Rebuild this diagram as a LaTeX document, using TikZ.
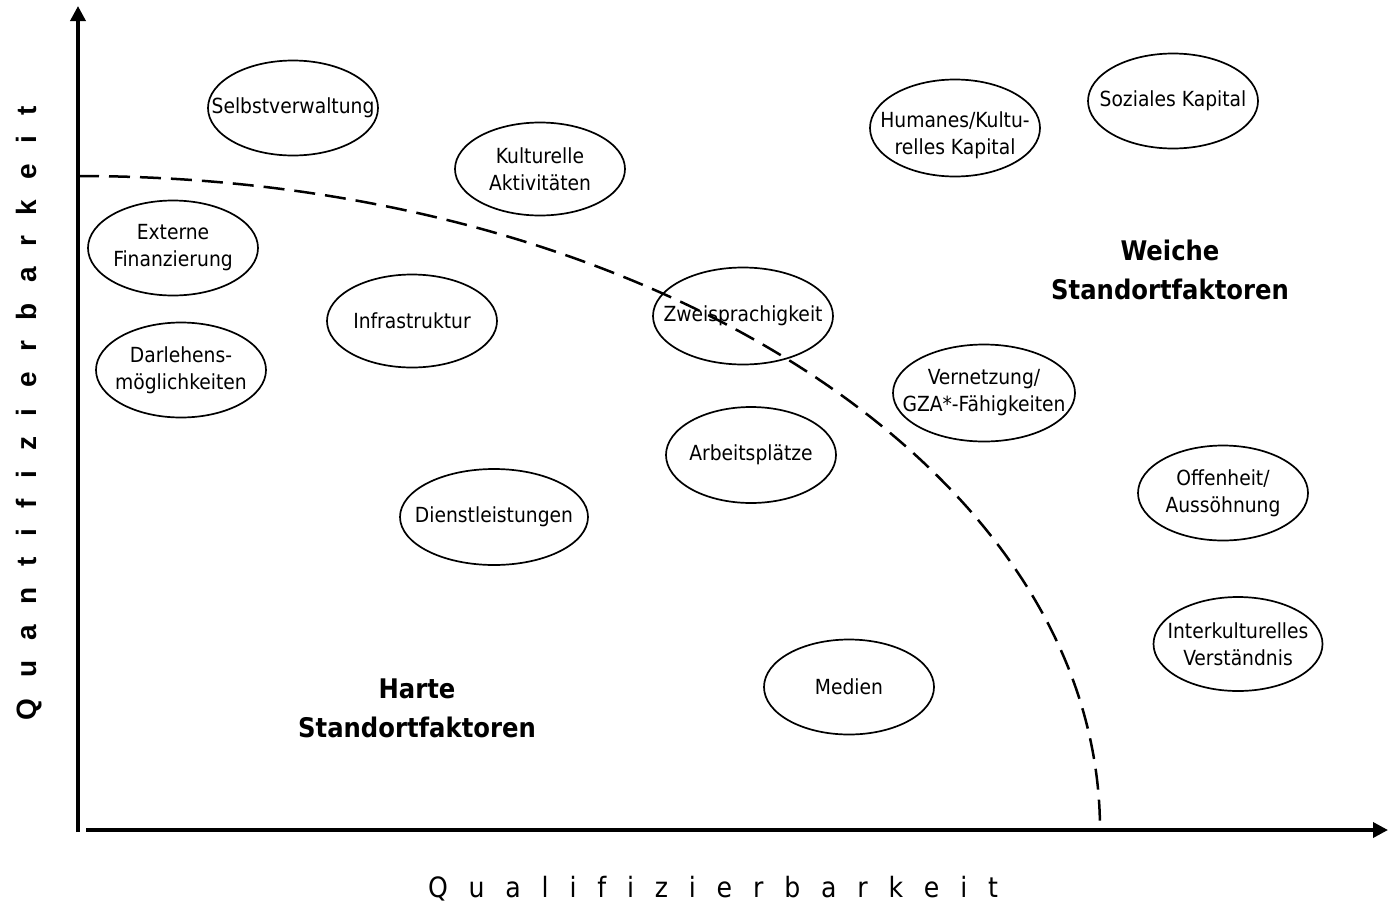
\documentclass[tikz,border=0pt]{standalone}
\usepackage{fontspec}
\setmainfont{DejaVu Sans Condensed}
\newfontfamily\axisfont{Liberation Sans}
\usetikzlibrary{shapes.geometric,arrows.meta}
\begin{document}
\begin{tikzpicture}[x=1pt,y=-1pt,
  factor/.style={ellipse,draw,line width=1.7pt,inner sep=0pt,minimum width=170pt,minimum height=95pt},
  lbl/.style={align=center,inner sep=0pt,font=\fontsize{20.8}{27}\selectfont},
  zone/.style={align=center,font=\bfseries\fontsize{27}{39}\selectfont},
  axisline/.style={line width=3.5pt,-{Triangle[length=15pt,width=15pt]}},
  boundary/.style={line width=2.5pt,dash pattern=on 21pt off 10pt}]
\useasboundingbox[fill=white] (0,0) rectangle (1388,905);
% axes
\coordinate (yfoot) at (78,832);
\coordinate (ytop) at (78,6);
\coordinate (xfoot) at (86,830);
\coordinate (xtip) at (1388,830);
\draw[axisline] (yfoot) -- (ytop);
\draw[axisline] (xfoot) -- (xtip);
% boundary between hard and soft factors
\draw[boundary] (78,176) arc[start angle=-90,end angle=0,x radius=1022,y radius=654];
% axis labels
\node[inner sep=0pt,font=\fontsize{28}{28}\selectfont] (xlab) at (713,889)
  {\makebox[570pt]{Q\hfill u\hfill a\hfill l\hfill i\hfill f\hfill i\hfill z\hfill i\hfill e\hfill r\hfill b\hfill a\hfill r\hfill k\hfill e\hfill i\hfill t}};
\node[inner sep=0pt,rotate=90,font=\axisfont\bfseries\fontsize{28}{28}\selectfont] (ylab) at (29,413)
  {\makebox[614pt]{Q\hfill u\hfill a\hfill n\hfill t\hfill i\hfill f\hfill i\hfill z\hfill i\hfill e\hfill r\hfill b\hfill a\hfill r\hfill k\hfill e\hfill i\hfill t}};
% factors
\node[factor,label={[lbl]center:Selbstverwaltung}] (selbst) at (293,108) {};
\node[factor,minimum height=93pt,label={[lbl]center:Kulturelle\\Aktivitäten}] (kultur) at (540,169) {};
\node[factor,label={[lbl]center:Externe\\Finanzierung}] (extern) at (173,248) {};
\node[factor,minimum height=93pt,label={[lbl]center:Infrastruktur}] (infra) at (412,321) {};
\node[factor,label={[lbl]center:Darlehens-\\möglichkeiten}] (darlehen) at (181,370) {};
\node[factor,minimum width=180pt,minimum height=97pt,label={[lbl]center:Zweisprachigkeit}] (zwei) at (743,316) {};
\node[factor,minimum height=96pt,label={[lbl]center:Arbeitsplätze}] (arbeit) at (751,455) {};
\node[factor,minimum width=188pt,minimum height=96pt,label={[lbl]center:Dienstleistungen}] (dienst) at (494,517) {};
\node[factor,label={[lbl]center:Medien}] (medien) at (849,687) {};
\node[factor,minimum height=97pt] (human) at (955,128) {};
\node[lbl] (humantext) at (955,135) {Humanes/Kultu-\\relles Kapital};
\node[factor,label={[lbl]center:Soziales Kapital}] (sozial) at (1173,101) {};
\node[factor,minimum width=182pt,minimum height=97pt,label={[lbl]center:Vernetzung/\\GZA*-Fähigkeiten}] (vernetz) at (984,393) {};
\node[factor,label={[lbl]center:Offenheit/\\Aussöhnung}] (offen) at (1223,493) {};
\node[factor,minimum width=169pt,minimum height=94pt,label={[lbl]center:Interkulturelles\\Verständnis}] (interk) at (1238,644) {};
% zones
\node[zone] (weich) at (1170,270) {Weiche\\Standortfaktoren};
\node[zone] (hart) at (417,708) {Harte\\Standortfaktoren};
\end{tikzpicture}
\end{document}
